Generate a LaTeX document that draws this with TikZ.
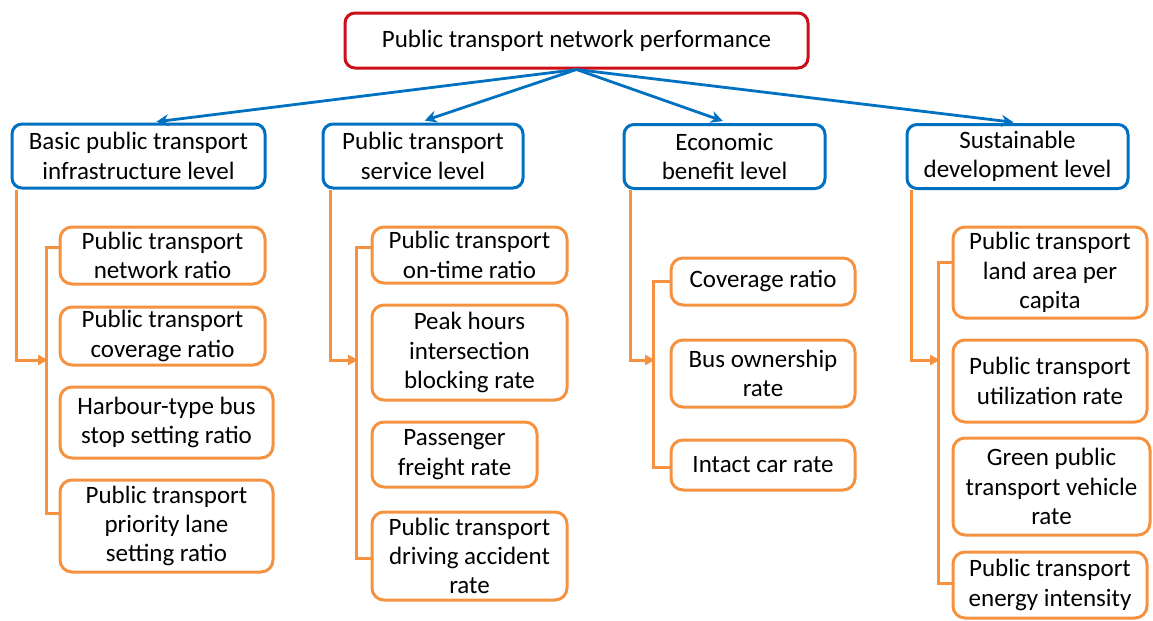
\documentclass[tikz,border=0pt]{standalone}
\usepackage{fontspec}
\setmainfont{Carlito}
\usetikzlibrary{arrows.meta}
\definecolor{rootred}{RGB}{204,16,24}
\definecolor{levelblue}{RGB}{0,112,192}
\definecolor{itemorange}{RGB}{245,146,64}

\begin{document}
\begin{tikzpicture}[x=0.5pt, y=-0.5pt,
    every node/.style={font=\fontsize{12.5}{14.7}\selectfont, align=center, inner sep=0pt},
    rootbox/.style={draw=rootred, line width=1.5pt, rounded corners=5pt},
    levelbox/.style={draw=levelblue, line width=1.5pt, rounded corners=5pt},
    itembox/.style={draw=itemorange, line width=1.5pt, rounded corners=6pt},
    branch/.style={levelblue, line width=1.4pt, -{Stealth[length=6pt,width=6pt]}, shorten >=3pt},
    feed/.style={itemorange, line width=1.5pt},
    feedin/.style={feed, -{Triangle[length=5pt,width=5pt]}},
  ]
  \useasboundingbox (0,0) rectangle (1153,621);

  % top and the four levels
  \node[rootbox, minimum width=231.5pt, minimum height=27.5pt] (perf) at (576.5,40.5) {Public transport network performance};
  \node[levelbox, minimum width=126.5pt, minimum height=32pt] (infra) at (138.5,156) {Basic public transport\\infrastructure level};
  \node[levelbox, minimum width=100pt, minimum height=32pt] (service) at (423,156) {Public transport\\service level};
  \node[levelbox, minimum width=100.5pt, minimum height=32pt] (econ) at (724.5,156.5) {Economic\\benefit level};
  \node[levelbox, minimum width=110.5pt, minimum height=32pt] (sust) at (1017.5,156.5) {Sustainable\\development level};

  \draw[branch] (perf.south) -- ([xshift=6pt]infra.north);
  \draw[branch] (perf.south) -- ([xshift=-2pt]service.north);
  \draw[branch] (perf.south) -- ([xshift=2pt]econ.north);
  \draw[branch] (perf.south) -- ([xshift=1pt]sust.north);

  % infrastructure indicators
  \node[itembox, minimum width=102.5pt, minimum height=28.5pt] (netratio) at (162.5,255.5) {Public transport\\network ratio};
  \node[itembox, minimum width=102.5pt, minimum height=29pt] (covratio) at (162.5,336) {Public transport\\coverage ratio};
  \node[itembox, minimum width=106.5pt, minimum height=35.5pt] (harbour) at (166.5,422.5) {Harbour-type bus\\stop setting ratio};
  \node[itembox, minimum width=106.5pt, minimum height=46pt] (lane) at (166.5,526) {Public transport\\priority lane\\setting ratio};
  \coordinate (in1) at (48,360);
  \draw[feed] ([yshift=4.25pt]netratio.west) -- ++(-6pt,0) |- ([yshift=6.5pt]lane.west);
  \draw[feedin] ([xshift=3pt]infra.south west) |- (in1);

  % service indicators
  \node[itembox, minimum width=97.5pt, minimum height=28pt] (ontime) at (469.5,255) {Public transport\\on-time ratio};
  \node[itembox, minimum width=97.5pt, minimum height=47.5pt] (peak) at (469.5,352.5) {Peak hours\\intersection\\blocking rate};
  \node[itembox, minimum width=82.5pt, minimum height=32.5pt] (freight) at (454.5,454.5) {Passenger\\freight rate};
  \node[itembox, minimum width=97.5pt, minimum height=44pt] (accident) at (469.5,556) {Public transport\\driving accident\\rate};
  \coordinate (in2) at (358,360);
  \draw[feed] ([yshift=4pt]ontime.west) -- ++(-7pt,0) |- ([yshift=-1pt]accident.west);
  \draw[feedin] ([xshift=4.5pt]service.south west) |- (in2);

  % economic indicators
  \node[itembox, minimum width=92pt, minimum height=23.5pt] (coverage) at (763,281.5) {Coverage ratio};
  \node[itembox, minimum width=92pt, minimum height=33.5pt] (ownership) at (763,373.5) {Bus ownership\\rate};
  \node[itembox, minimum width=92pt, minimum height=25pt] (intact) at (763,465) {Intact car rate};
  \coordinate (in3) at (655,360);
  \draw[feed] (coverage.west) -- ++(-8pt,0) |- ([yshift=-1pt]intact.west);
  \draw[feedin] ([xshift=4pt]econ.south west) |- (in3);

  % sustainability indicators
  \node[itembox, minimum width=97pt, minimum height=45.5pt] (landarea) at (1050,272.5) {Public transport\\land area per\\capita};
  \node[itembox, minimum width=97pt, minimum height=41pt] (utilization) at (1050,381) {Public transport\\utilization rate};
  \node[itembox, minimum width=98.5pt, minimum height=48.5pt] (vehicle) at (1051.5,486.5) {Green public\\transport vehicle\\rate};
  \node[itembox, minimum width=97pt, minimum height=33pt] (energy) at (1050,585) {Public transport\\energy intensity};
  \coordinate (in4) at (940,360);
  \draw[feed] ([yshift=5pt]landarea.west) -- ++(-6.5pt,0) |- ([yshift=1pt]energy.west);
  \draw[feedin] ([xshift=3pt]sust.south west) |- (in4);
\end{tikzpicture}
\end{document}
